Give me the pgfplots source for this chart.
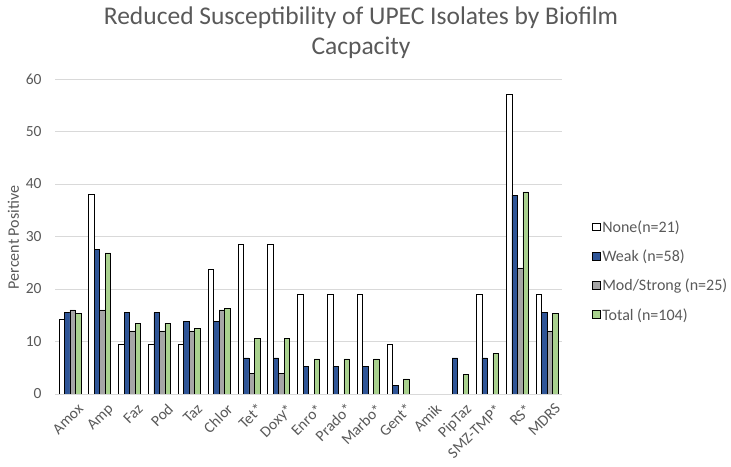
\documentclass[border=0pt]{standalone}
\usepackage{pgfplots}
\pgfplotsset{compat=1.18}
\usepackage{fontspec}
\setmainfont{Carlito}
\definecolor{weakblue}{HTML}{2F5597}
\definecolor{modgrey}{HTML}{A6A6A6}
\definecolor{totgreen}{HTML}{A9D18E}
\definecolor{txtgrey}{HTML}{595959}
\definecolor{gridgrey}{HTML}{D9D9D9}
\begin{document}
\begin{tikzpicture}
\useasboundingbox (0,0) rectangle (731bp,467bp);
\node[align=center, text=txtgrey, font=\fontsize{25.5bp}{30bp}\selectfont] at (361bp,434bp) {Reduced Susceptibility of UPEC Isolates by Biofilm\\Cacpacity};
\begin{axis}[
  at={(55bp,73bp)}, anchor=south west,
  scale only axis, width=507bp, height=315bp,
  ybar=0pt, bar width=5.5bp,
  xmin=-0.5, xmax=16.5, ymin=0, ymax=60,
  ytick={0,10,...,60},
  xtick={0,...,16},
  xticklabels={{Amox},{Amp},{Faz},{Pod},{Taz},{Chlor},{Tet*},{Doxy*},{Enro*},{Prado*},{Marbo*},{Gent*},{Amik},{PipTaz},{SMZ-TMP*},{RS*},{MDRS}},
  x tick label style={rotate=45, anchor=north east, inner sep=1pt, font=\fontsize{15.5bp}{17bp}\selectfont, text=txtgrey, xshift=0bp, yshift=-10bp},
  y tick label style={font=\fontsize{15.5bp}{17bp}\selectfont, text=txtgrey, xshift=-10bp},
  /pgf/number format/assume math mode=true,
  ymajorgrids, grid style={gridgrey, line width=0.8pt},
  major tick length=0pt,
  axis x line*=bottom, axis y line*=left,
  x axis line style={gridgrey, line width=0.8pt, -},
  y axis line style={draw=none},
  ylabel={Percent Positive},
  every axis y label/.style={at={(ticklabel cs:0.5)}, rotate=90, anchor=south, xshift=-1bp, font=\fontsize{16bp}{18bp}\selectfont, text=txtgrey},
  legend style={at={(1.053,0.39)}, anchor=west, draw=none, fill=none, font=\fontsize{16bp}{18bp}\selectfont, text=txtgrey, row sep=12bp},
  legend cell align=left,
  legend image code/.code={\draw[#1, draw=black, line width=0.6pt] (0cm,-0.12cm) rectangle (0.27cm,0.15cm);},
]
\addplot[fill=white, draw=black, line width=0.5pt] coordinates {(0,14.3) (1,38.1) (2,9.5) (3,9.5) (4,9.5) (5,23.8) (6,28.6) (7,28.6) (8,19.0) (9,19.0) (10,19.0) (11,9.5) (12,0) (13,0) (14,19.0) (15,57.1) (16,19.0)};
\addplot[fill=weakblue, draw=black, line width=0.5pt] coordinates {(0,15.5) (1,27.6) (2,15.5) (3,15.5) (4,13.8) (5,13.8) (6,6.9) (7,6.9) (8,5.2) (9,5.2) (10,5.2) (11,1.7) (12,0) (13,6.9) (14,6.9) (15,37.9) (16,15.5)};
\addplot[fill=modgrey, draw=black, line width=0.5pt] coordinates {(0,16) (1,16) (2,12) (3,12) (4,12) (5,16) (6,4) (7,4) (8,0) (9,0) (10,0) (11,0) (12,0) (13,0) (14,0) (15,24) (16,12)};
\addplot[fill=totgreen, draw=black, line width=0.5pt] coordinates {(0,15.4) (1,26.9) (2,13.5) (3,13.5) (4,12.5) (5,16.3) (6,10.6) (7,10.6) (8,6.7) (9,6.7) (10,6.7) (11,2.9) (12,0) (13,3.8) (14,7.7) (15,38.5) (16,15.4)};
\legend{None(n=21), Weak (n=58), Mod/Strong (n=25), Total (n=104)}
\end{axis}
\end{tikzpicture}
\end{document}
